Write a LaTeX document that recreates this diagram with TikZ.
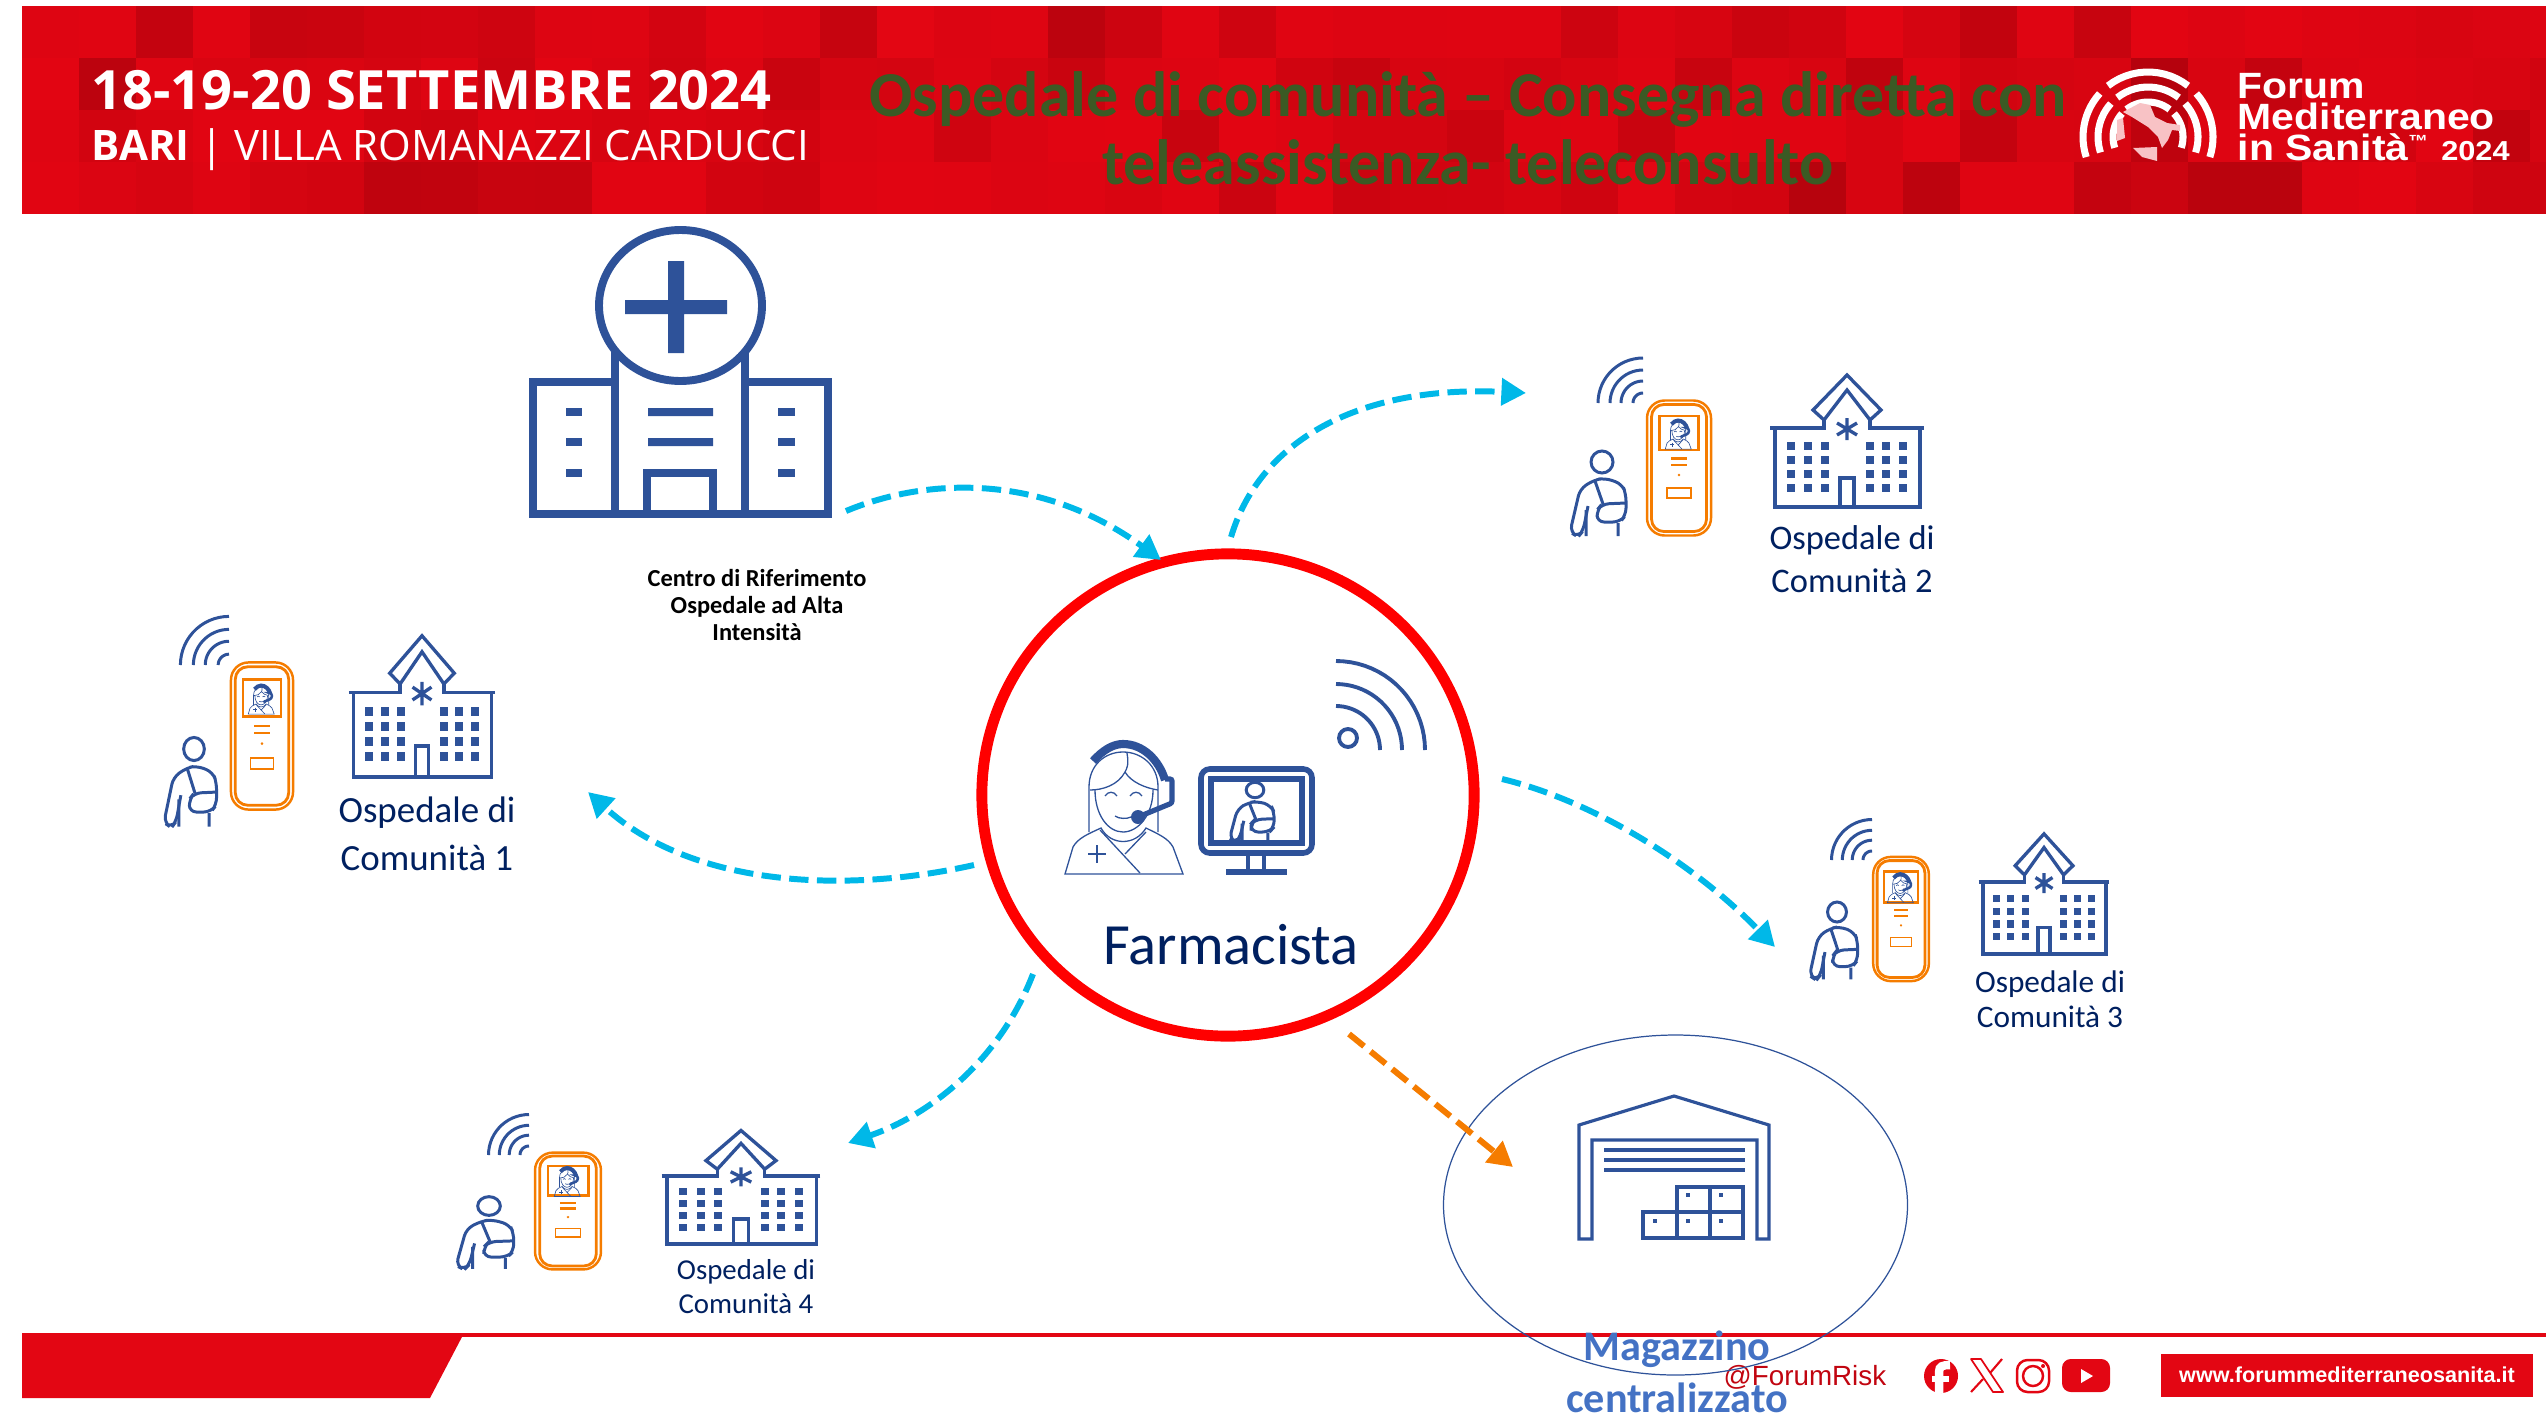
\documentclass[tikz,border=0pt]{standalone}
\usepackage{fontspec}
\usetikzlibrary{calc, positioning, arrows.meta, shapes.geometric}
\newfontfamily\headfont{Open Sans}
\newfontfamily\bodyfont{Carlito}
\newfontfamily\logofont{Liberation Sans}
\newfontfamily\forumfont[FakeStretch=1.12]{Liberation Sans}
\definecolor{iconblue}{HTML}{2E5299}
\definecolor{navytext}{HTML}{002060}
\definecolor{magblue}{HTML}{4472C4}
\definecolor{devorange}{HTML}{F57C00}
\definecolor{linkcyan}{HTML}{00B8E8}
\definecolor{forumred}{HTML}{E30613}
\definecolor{tiledark}{HTML}{8C0008}
\definecolor{titlegreen}{HTML}{3B5A24}
\tikzset{
  pics/commhosp/.style={code={
    \draw[iconblue, line width=.95pt] (-72,-78) -- (-72,0) -- (73,0) -- (73,-78);
    \draw[iconblue, line width=.95pt] (-77,-79) -- (-23,-79) -- (-23,-88);
    \draw[iconblue, line width=.95pt] (77,-79) -- (23,-79) -- (23,-88);
    \draw[iconblue, line width=.95pt] (0,-132) -- (34,-97) -- (23,-87) -- (0,-117) -- (-23,-87) -- (-34,-97) -- cycle;
    \draw[iconblue, line width=.95pt] (0,-89) -- (0,-67) (-10,-84) -- (10,-72) (10,-84) -- (-10,-72);
    \foreach \wx in {-56,-39,-22,23,39,56}
      \foreach \wy in {-61,-47,-33,-19}
        \fill[iconblue] ({\wx-4},{\wy-4}) rectangle ({\wx+4},{\wy+4});
    \draw[iconblue, line width=.95pt] (-7,0) -- (-7,-29) -- (7,-29) -- (7,0);
  }},
  pics/patient/.style={code={
    \draw[iconblue, line width=.85pt] (0,0) circle (11);
    \draw[iconblue, line width=.85pt, rounded corners=2pt] (-14,44) -- (-19,69) -- (-24,75) -- (-32,70) -- (-22,27) -- (-8,18) -- (3,16) -- (20,22) -- (24,32) -- (24,53) -- (18,60) -- (-5,60) -- (-5,48) -- (0,42) -- (24,41);
    \draw[iconblue, line width=.85pt] (-7,19) -- (1,42) (-16,48) -- (-16,74) (16,61) -- (16,74);
  }},
  pics/signalwifi/.style={code={
    \foreach \r in {10,22,33,45}
      \draw[iconblue, line width=.85pt] plot[domain=0:90, samples=16] ({-\r*cos(\x)},{-\r*sin(\x)});
  }},
  pics/nurse/.style={code={
    \draw[iconblue] (-34,22) -- (-34,-23) .. controls (-34,-45) and (-18,-58) .. (0,-58) .. controls (18,-58) and (35,-45) .. (35,-23) -- (35,22);
    \draw[iconblue] (-28,-20) .. controls (-28,5) and (-15,22) .. (0,22) .. controls (15,22) and (30,5) .. (30,-20);
    \draw[iconblue] (4,-57) .. controls (6,-45) and (4,-42) .. (2,-38) .. controls (-5,-25) and (-20,-20) .. (-33,-20);
    \draw[iconblue] (2,-38) .. controls (8,-28) and (22,-22) .. (35,-20);
    \draw[iconblue] (-18,-14) .. controls (-15,-19) and (-9,-19) .. (-6,-14);
    \draw[iconblue] (7,-14) .. controls (10,-19) and (16,-19) .. (19,-14);
    \draw[iconblue] (-8,6) .. controls (-4,9) and (4,9) .. (8,7);
    \draw[iconblue, line width=2.5*\pgflinewidth] (-30,-49) .. controls (-20,-60) and (-10,-66) .. (0,-66) .. controls (20,-66) and (36,-50) .. (42,-30);
    \draw[iconblue, line width=2*\pgflinewidth, rounded corners=.6pt] (42,-31) -- (49,-31) -- (49,-7) -- (15,7);
    \fill[iconblue] (15,7) circle (7);
    \draw[iconblue] (-58,64) -- (60,64) -- (50,37) .. controls (45,28) and (35,24) .. (23,18) .. controls (12,36) and (-12,36) .. (-22,18) .. controls (-35,24) and (-45,28) .. (-50,37) -- cycle;
    \draw[iconblue] (-23,20) -- (17,63) (23,22) -- (2,44);
    \draw[iconblue] (-35,44) -- (-17,44) (-26,35) -- (-26,53);
  }},
  pics/kiosk/.style={code={
    \draw[devorange, line width=.7pt, rounded corners=5pt] (-32,-67.5) rectangle (32,67.5);
    \draw[devorange, line width=.8pt, rounded corners=3.5pt] (-27.5,-63.5) rectangle (27.5,63.5);
    \draw[devorange, line width=.8pt] (-19.5,-52) rectangle (19.5,-18);
    \pic[scale=.22, line width=.18pt] at (-1,-33) {nurse};
    \draw[devorange, line width=.65pt] (-8,-9.5) -- (8,-9.5) (-8,-3) -- (8,-3);
    \fill[devorange] (0,7) circle (1.4);
    \draw[devorange, line width=.45pt] (-12,20) rectangle (12,30);
  }},
}
\begin{document}
\begin{tikzpicture}[x=0.01cm, y=-0.01cm, >={Triangle[length=7pt,width=7.5pt]}]
  \tikzset{
    linkarrow/.style={->, line width=1.7pt, dash pattern=on 5.5pt off 2.4pt},
    oclabel/.style={text=navytext, align=center, font=\bodyfont\fontsize{#1}{#1}\selectfont},
  }
  \useasboundingbox (0,0) rectangle (2546,1418);

  % banner
  \fill[forumred] (22,6) rectangle (2546,214);
  \begin{scope}
    \clip (22,6) rectangle (2546,214);
    \pgfmathsetseed{2024}
    \foreach \tx in {0,...,44}
      \foreach \ty in {0,1,2,3} {
        \pgfmathsetmacro{\tileop}{rnd*rnd*0.6}
        \fill[tiledark, opacity=\tileop] ({22+57*\tx},{6+52*\ty}) rectangle ({79+57*\tx},{58+52*\ty});
      }
  \end{scope}
  \node[text=white, anchor=west, inner sep=0, font=\headfont\bfseries\fontsize{15.4}{18}\selectfont] (eventdate) at (91,90) {18-19-20 SETTEMBRE 2024};
  \node[text=white, anchor=west, inner sep=0, font=\headfont\fontsize{11.95}{14}\selectfont] (eventplace) at (91,150) {\textbf{BARI} | VILLA ROMANAZZI CARDUCCI};
  \node[text=titlegreen, align=center, inner sep=0, font=\bodyfont\bfseries\fontsize{18.2}{19.3}\selectfont] (slidetitle) at (1468,128) {Ospedale di comunità – Consegna diretta con\\teleassistenza- teleconsulto};

  % logo
  \foreach \r in {65,50,35} {
    \draw[white, line width=2pt] plot[domain=52:128, samples=14] ({2148+\r*cos(\x)},{137-\r*sin(\x)});
    \draw[white, line width=2pt] plot[domain=138:198, samples=14] ({2148+\r*cos(\x)},{137-\r*sin(\x)});
    \draw[white, line width=2pt] plot[domain=-18:42, samples=14] ({2148+\r*cos(\x)},{137-\r*sin(\x)});
  }
  \fill[white!65!forumred!70] (2123,112) -- (2140,103) -- (2150,105) -- (2155,117) -- (2167,123) -- (2180,125) -- (2180,131) -- (2172,130) -- (2168,140) -- (2162,148) -- (2158,137) -- (2148,127) -- (2132,117) -- cycle;
  \fill[white!65!forumred!70] (2117,120) -- (2123,118) -- (2125,138) -- (2117,141) -- cycle;
  \fill[white!65!forumred!70] (2133,148) -- (2157,147) -- (2157,161) -- (2142,157) -- cycle;
  \node[text=white, anchor=west, align=left, inner sep=0, font=\forumfont\bfseries\fontsize{10.4}{8.8}\selectfont] (forumname) at (2237,117) {Forum\\Mediterraneo\\in Sanità\textsuperscript{\tiny™} {\fontsize{7.8}{8.8}\selectfont 2024}};

  % footer
  \fill[forumred] (22,1333) rectangle (2546,1337);
  \fill[forumred] (22,1335) -- (463,1335) -- (430,1398) -- (22,1398) -- cycle;
  \fill[forumred] (2161,1354) rectangle (2533,1397);
  \node[text=white, inner sep=0, font=\logofont\bfseries\fontsize{6.15}{8}\selectfont] (website) at (2347,1375) {www.forummediterraneosanita.it};
  \node[text=forumred!85!black, anchor=base west, inner sep=0, font=\logofont\fontsize{7.9}{9}\selectfont] (handle) at (1723,1385) {@ForumRisk};
  \fill[forumred] (1941,1376) circle (17);
  \draw[white, line width=2.4pt] (1939,1393) -- (1939,1372) .. controls (1939,1366) and (1943,1365) .. (1950,1365);
  \draw[white, line width=1.6pt] (1932,1379) -- (1949,1379);
  \draw[forumred, line width=.5pt, line join=round] (1971,1359) -- (1981,1359) -- (2003,1392) -- (1993,1392) -- cycle;
  \draw[forumred, line width=.6pt] (2002,1359) -- (1990,1373) (1983,1379) -- (1971,1392);
  \draw[forumred, line width=.7pt, rounded corners=3pt] (2017,1360) rectangle (2049,1392);
  \draw[forumred, line width=.7pt] (2033,1376) circle (10);
  \fill[forumred] (2043,1366) circle (2);
  \fill[forumred, rounded corners=2.5pt] (2062,1359) rectangle (2110,1392);
  \fill[white] (2081,1369) -- (2093,1376) -- (2081,1383) -- cycle;

  % reference hospital
  \begin{scope}[iconblue, line width=2.25pt]
    \draw (533,514) -- (533,382) -- (615,382) (615,350) -- (615,514);
    \draw (828,514) -- (828,382) -- (745,382) (745,350) -- (745,514);
    \draw (529,514) -- (832,514);
    \draw[fill=white] (680.5,305.5) ellipse (81.5 and 75.5);
    \draw (647,514) -- (647,473) -- (713,473) -- (713,514);
    \fill (625,300) rectangle (727,314) (668,261) rectangle (684,353);
    \foreach \wy in {408,438,469} {
      \fill (566,\wy) rectangle (582,\wy+8);
      \fill (778,\wy) rectangle (795,\wy+8);
    }
    \fill (648,408) rectangle (713,416) (648,438) rectangle (713,446);
  \end{scope}
  \node[align=center, inner sep=0, font=\bodyfont\bfseries\fontsize{6.95}{7.7}\selectfont] (reflabel) at (757,605) {Centro di Riferimento\\Ospedale ad Alta\\Intensità};

  % pharmacist
  \node[ellipse, draw=red, line width=3.1pt, minimum width=4.92cm, minimum height=4.82cm, inner sep=0] (hub) at (1228,795) {};
  \pic[line width=.37pt] (hubnurse) at (1123,810) {nurse};
  \draw[iconblue, line width=1.6pt, rounded corners=2.5pt] (1201,769) rectangle (1312,853);
  \draw[iconblue, line width=1.6pt] (1211,779) rectangle (1302,843);
  \draw[iconblue, line width=1.4pt] (1248,855) -- (1248,870) (1264,855) -- (1264,870);
  \draw[iconblue, line width=1.6pt] (1226,872) -- (1287,872);
  \pic[xscale=.8, yscale=.7] (hubpatient) at (1255,790) {patient};
  \draw[iconblue, line width=1.1pt] (1348,738) circle (9);
  \foreach \r in {44,66,89}
    \draw[iconblue, line width=1.1pt] plot[domain=0:90, samples=20] ({1336+\r*sin(\x)},{750-\r*cos(\x)});
  \node[text=navytext, inner sep=0, font=\bodyfont\fontsize{16.6}{18}\selectfont] (farmacista) at (1231,945) {Farmacista};

  % community hospital 1
  \pic[xscale=.95, yscale=1.07] (hosp1) at (422,777) {commhosp};
  \pic[xscale=.94, yscale=1.05] (pat1) at (194,749) {patient};
  \pic[xscale=.97, yscale=1.09] (kiosk1) at (262,736) {kiosk};
  \pic[scale=1.08] (wifi1) at (229,665) {signalwifi};
  \node[oclabel=10.5] (label1) at (427,834) {Ospedale di\\[3.2pt]Comunità 1};

  % community hospital 2
  \pic (hosp2) at (1847,507) {commhosp};
  \pic (pat2) at (1602,462) {patient};
  \pic (kiosk2) at (1679,468) {kiosk};
  \pic (wifi2) at (1643,403) {signalwifi};
  \node[oclabel=9.8] (label2) at (1852,559) {Ospedale di\\[2.5pt]Comunità 2};

  % community hospital 3
  \pic[xscale=.85, yscale=.91] (hosp3) at (2044,954) {commhosp};
  \pic[xscale=.86, yscale=.91] (pat3) at (1837,912) {patient};
  \pic[xscale=.87, yscale=.92] (kiosk3) at (1901,919) {kiosk};
  \pic[scale=.9] (wifi3) at (1872,860) {signalwifi};
  \node[oclabel=8.9] (label3) at (2050,999) {Ospedale di\\[1.2pt]Comunità 3};

  % community hospital 4
  \pic[xscale=1.03, yscale=.86] (hosp4) at (741,1244) {commhosp};
  \pic[xscale=1.03, yscale=.85] (pat4) at (489,1206) {patient};
  \pic[xscale=1.03, yscale=.865] (kiosk4) at (568,1211) {kiosk};
  \pic[scale=.9] (wifi4) at (529,1155) {signalwifi};
  \node[oclabel=8.2] (label4) at (746,1287) {Ospedale di\\[1.5pt]Comunità 4};

  % warehouse
  \draw[iconblue, line width=.35pt] (1675.5,1205) ellipse (232 and 170);
  \draw[iconblue, line width=.9pt] (1579,1239) -- (1579,1125) -- (1674,1096) -- (1769,1125) -- (1769,1239) -- (1757,1239) -- (1757,1140) -- (1592,1140) -- (1592,1239) -- cycle;
  \foreach \wy in {1150,1160,1170}
    \draw[iconblue, line width=.9pt] (1604,\wy) -- (1745,\wy);
  \draw[iconblue, line width=.9pt] (1643,1238) rectangle (1743,1212) (1677,1238) -- (1677,1187) -- (1743,1187) -- (1743,1212) (1710,1187) -- (1710,1238);
  \foreach \wx/\wy in {1655/1221,1688/1221,1721/1221,1688/1195,1721/1195}
    \fill[iconblue] ({\wx-2},{\wy-2}) rectangle ({\wx+2},{\wy+2});
  \node[text=magblue, align=center, inner sep=0, font=\bodyfont\bfseries\fontsize{12}{14.8}\selectfont] (magazzino) at (1677,1372) {Magazzino\\centralizzato};

  % connectors
  \coordinate (fromref) at (846,511);
  \coordinate (hubin) at (1161,560);
  \coordinate (hubout2) at (1231,537);
  \coordinate (to2) at (1526,393);
  \coordinate (hubout3) at (1502,779);
  \coordinate (to3) at (1775,947);
  \coordinate (hubout1) at (974,865);
  \coordinate (to1) at (588,792);
  \coordinate (hubout4) at (1033,974);
  \coordinate (to4) at (848,1143);
  \coordinate (hubstore) at (1349,1034);
  \coordinate (tostore) at (1513,1167);

  \draw[linkarrow, linkcyan] (fromref) .. controls (925,478) and (1040,472) .. (hubin);
  \draw[linkarrow, linkcyan] (hubout2) .. controls (1260,440) and (1360,385) .. (to2);
  \draw[linkarrow, linkcyan] (hubout3) .. controls (1590,800) and (1690,860) .. (to3);
  \draw[linkarrow, linkcyan] (hubout1) .. controls (840,895) and (690,885) .. (to1);
  \draw[linkarrow, linkcyan] (hubout4) .. controls (1000,1060) and (930,1115) .. (to4);
  \draw[linkarrow, devorange] (hubstore) -- (tostore);
\end{tikzpicture}
\end{document}
